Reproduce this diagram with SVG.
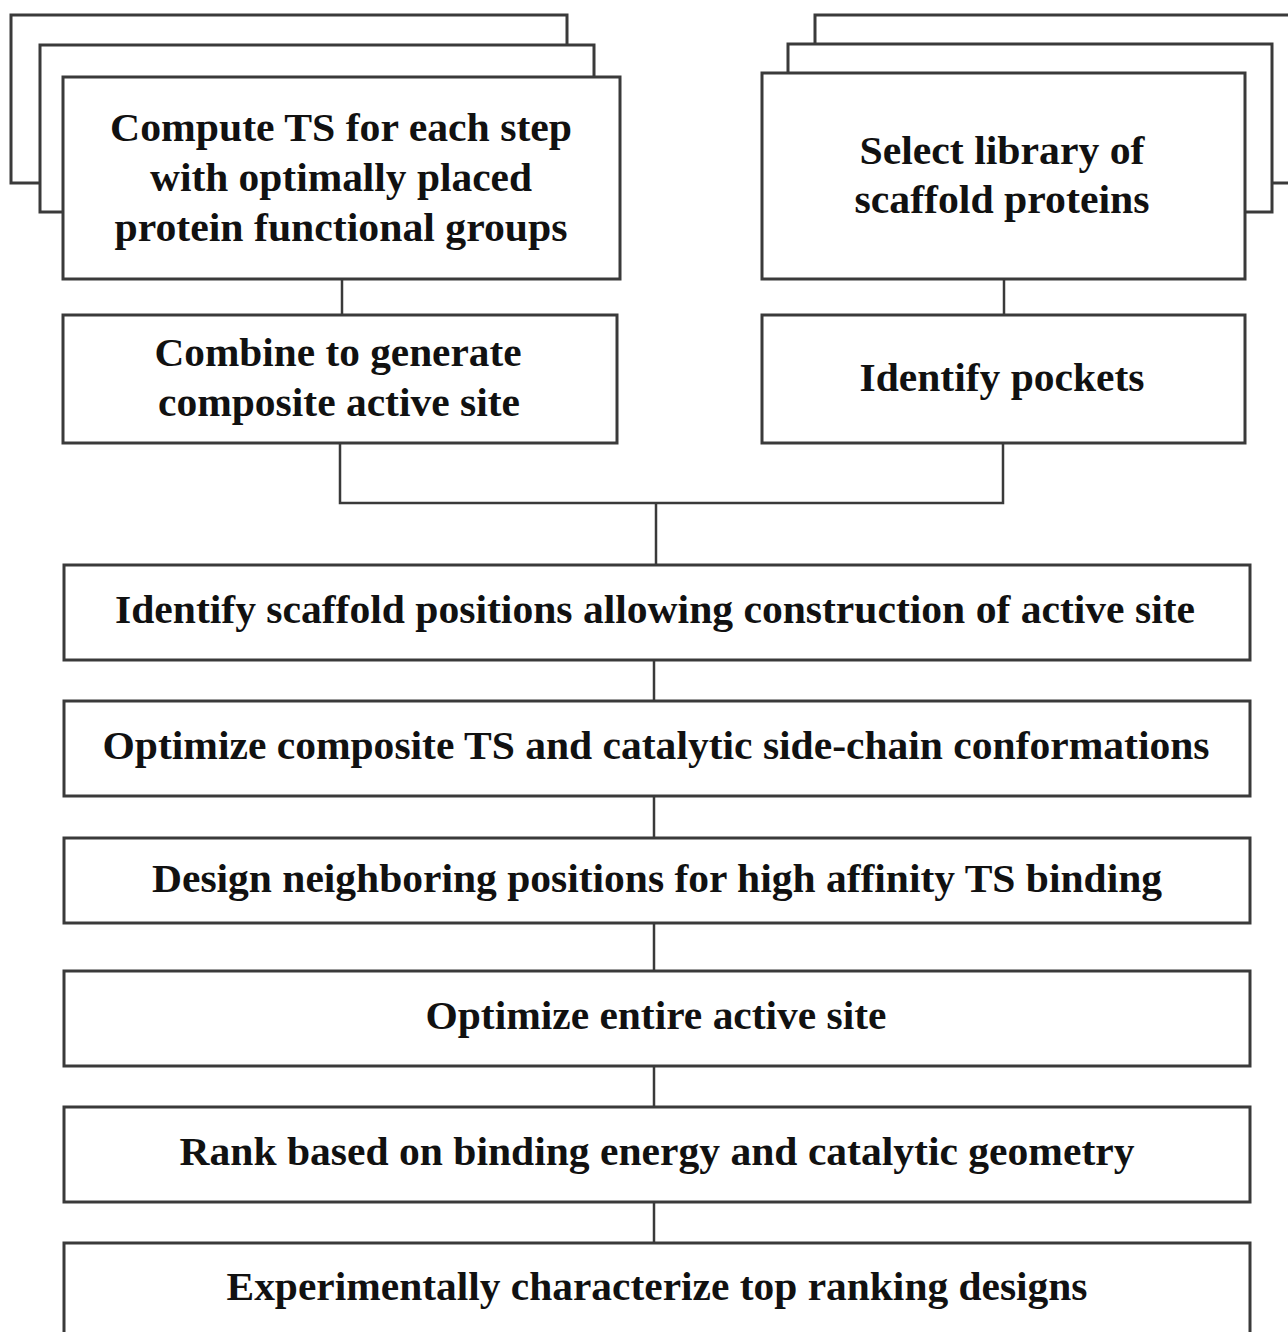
<svg xmlns="http://www.w3.org/2000/svg" width="1288" height="1332" viewBox="0 0 1288 1332">
<style>
.box{fill:#fff;stroke:#3a3a3a;stroke-width:3}
.back{fill:#fff;stroke:#3a3a3a;stroke-width:3}
.conn{fill:none;stroke:#3a3a3a;stroke-width:2.5}
text{font-family:"Liberation Serif","Times New Roman",serif;font-weight:bold;font-size:41px;fill:#111;text-anchor:middle}
</style>
<rect width="1288" height="1332" fill="#fff"/>
<g id="node-compute-ts">
<rect class="back" x="11" y="15" width="556" height="168"/>
<rect class="back" x="40" y="45" width="554" height="167"/>
<rect class="box" x="63" y="77" width="557" height="202"/>
<text x="341" y="141" textLength="462" lengthAdjust="spacingAndGlyphs">Compute TS for each step</text>
<text x="341" y="191" textLength="382" lengthAdjust="spacingAndGlyphs">with optimally placed</text>
<text x="341" y="241" textLength="453" lengthAdjust="spacingAndGlyphs">protein functional groups</text>
</g>
<g id="node-select-library">
<rect class="back" x="815" y="15" width="500" height="168"/>
<rect class="back" x="788" y="44" width="484" height="168"/>
<rect class="box" x="762" y="73" width="483" height="206"/>
<text x="1002" y="164" textLength="285" lengthAdjust="spacingAndGlyphs">Select library of</text>
<text x="1002" y="213" textLength="295" lengthAdjust="spacingAndGlyphs">scaffold proteins</text>
</g>
<g id="node-combine">
<rect class="box" x="63" y="315" width="554" height="128"/>
<text x="338" y="366" textLength="367" lengthAdjust="spacingAndGlyphs">Combine to generate</text>
<text x="339" y="416" textLength="362" lengthAdjust="spacingAndGlyphs">composite active site</text>
</g>
<g id="node-pockets">
<rect class="box" x="762" y="315" width="483" height="128"/>
<text x="1002" y="391" textLength="285" lengthAdjust="spacingAndGlyphs">Identify pockets</text>
</g>
<g id="node-scaffold-positions">
<rect class="box" x="64" y="565" width="1186" height="95"/>
<text x="655" y="623" textLength="1080" lengthAdjust="spacingAndGlyphs">Identify scaffold positions allowing construction of active site</text>
</g>
<g id="node-optimize-composite">
<rect class="box" x="64" y="701" width="1186" height="95"/>
<text x="656" y="759" textLength="1107" lengthAdjust="spacingAndGlyphs">Optimize composite TS and catalytic side-chain conformations</text>
</g>
<g id="node-design-neighboring">
<rect class="box" x="64" y="838" width="1186" height="85"/>
<text x="657" y="892" textLength="1010" lengthAdjust="spacingAndGlyphs">Design neighboring positions for high affinity TS binding</text>
</g>
<g id="node-optimize-entire">
<rect class="box" x="64" y="971" width="1186" height="95"/>
<text x="656" y="1029" textLength="461" lengthAdjust="spacingAndGlyphs">Optimize entire active site</text>
</g>
<g id="node-rank">
<rect class="box" x="64" y="1107" width="1186" height="95"/>
<text x="657" y="1165" textLength="955" lengthAdjust="spacingAndGlyphs">Rank based on binding energy and catalytic geometry</text>
</g>
<g id="node-experimental">
<rect class="box" x="64" y="1243" width="1186" height="120"/>
<text x="657" y="1300" textLength="861" lengthAdjust="spacingAndGlyphs">Experimentally characterize top ranking designs</text>
</g>
<g id="connectors">
<line class="conn" x1="342" y1="279" x2="342" y2="315"/>
<line class="conn" x1="1004" y1="279" x2="1004" y2="315"/>
<polyline class="conn" points="340,443 340,503 1003,503 1003,443"/>
<line class="conn" x1="656" y1="503" x2="656" y2="565"/>
<line class="conn" x1="654" y1="660" x2="654" y2="701"/>
<line class="conn" x1="654" y1="796" x2="654" y2="838"/>
<line class="conn" x1="654" y1="923" x2="654" y2="971"/>
<line class="conn" x1="654" y1="1066" x2="654" y2="1107"/>
<line class="conn" x1="654" y1="1202" x2="654" y2="1243"/>
</g>
</svg>
